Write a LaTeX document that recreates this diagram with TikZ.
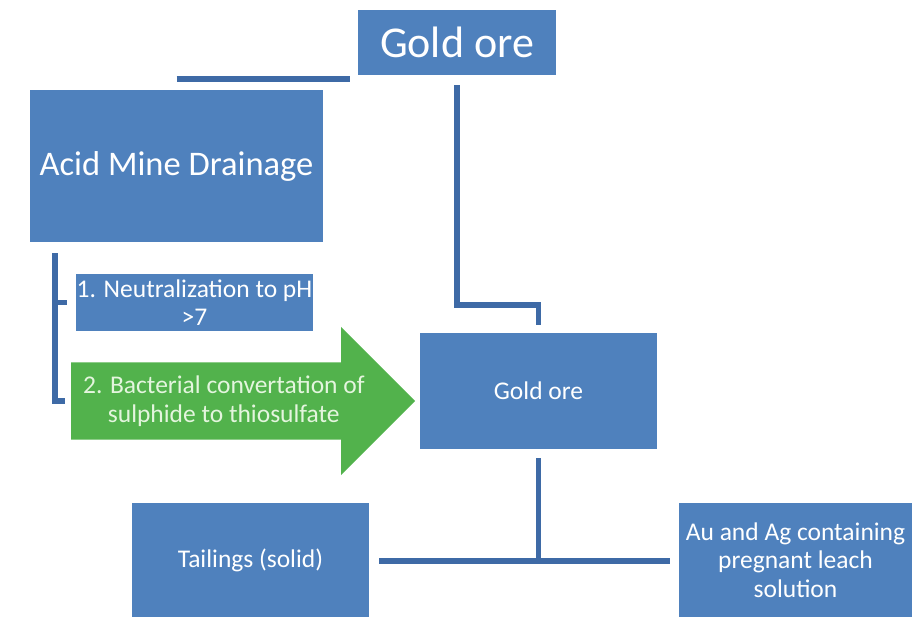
\documentclass[tikz,border=0pt]{standalone}
\usepackage{fontspec}
\setmainfont{Carlito}
\usepackage{tikz}
\usetikzlibrary{shapes.arrows,calc}
\definecolor{boxblue}{RGB}{79,129,189}
\definecolor{lineblue}{RGB}{62,106,166}
\definecolor{arrowgreen}{RGB}{82,178,76}
\definecolor{arrowtext}{RGB}{228,245,222}
\tikzstyle{box} = [fill=boxblue,text=white,inner sep=0pt,outer sep=0pt,align=center,
    anchor=north west,font=\fontsize{25.5}{28.5}\selectfont
]
\tikzstyle{conn} = [draw=lineblue,line width=5.5pt]
\newcommand{\flowbox}[6][]{
    \node(#2) at (#3) [box, minimum width=#4pt, minimum height=#5pt, #1] {#6};
}

\begin{document}
\begin{tikzpicture}[x=1pt,y=-1pt]
	\useasboundingbox (0,0) rectangle (912,619);

	\flowbox[font=\fontsize{44}{48}\selectfont]{goldtop}{358,10}{198}{65}{Gold ore};
	\flowbox[font=\fontsize{34.5}{38}\selectfont]{amd}{30,90}{293}{152}{Acid Mine Drainage};
	\flowbox{neutral}{76,274}{237}{57}{1. Neutralization to pH\\>7};
	\flowbox{goldmid}{420,333}{237}{116}{Gold ore};
	\flowbox{tailings}{132,503}{237}{114}{Tailings (solid)};
	\flowbox{leach}{679,503}{233}{114}{Au and Ag containing\\pregnant leach\\solution};

	\node(bact) at (71,401) [single arrow, fill=arrowgreen, text=arrowtext, inner sep=0pt,
	    single arrow head extend=35.5pt, minimum height=344pt, anchor=tail,
	    font=\fontsize{25.5}{28.5}\selectfont]
	    {\parbox[c][77pt][c]{200pt}{\centering\makebox[0pt]{2. Bacterial convertation of}\\
	    \makebox[0pt]{sulphide to thiosulfate}}\hspace{38pt}};

	\draw[conn] ($(amd.north)+(0,-11)$) -- ($(goldtop.south west)+(-8,4)$);
	\draw[conn] ($(goldtop.south)+(0,10)$) -- ++(0,220) -| ($(goldmid.north)+(0,-8)$);

	\coordinate (brtop) at ($(amd.south west)+(25,11)$);
	\draw[conn] (brtop) |- ($(bact.tail)+(-6,0)$);
	\draw[conn] (brtop |- neutral.west) -- ($(neutral.west)+(-9,0)$);

	\coordinate (split) at ($(goldmid.south)+(0,112)$);
	\draw[conn] ($(goldmid.south)+(0,9)$) -- (split);
	\draw[conn] ($(tailings.east)+(10,1)$) -- ($(leach.west)+(-9,1)$);
\end{tikzpicture}
\end{document}
